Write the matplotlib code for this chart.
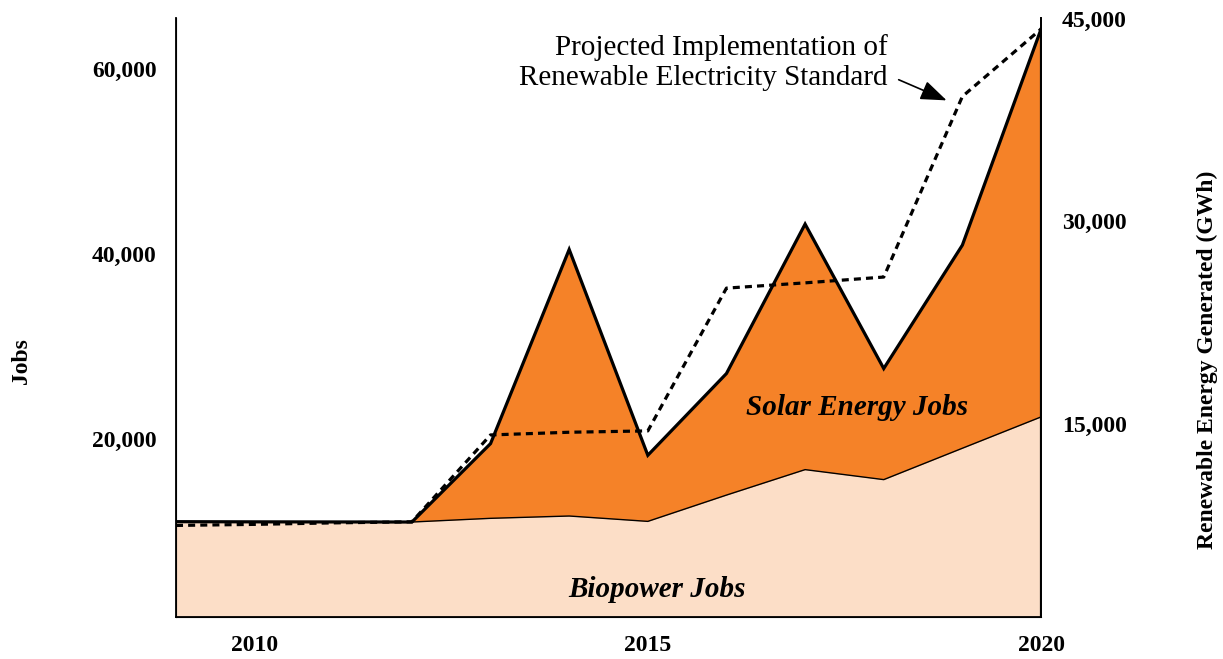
import numpy as np
import matplotlib
matplotlib.use('Agg')
from matplotlib import pyplot as plt
from matplotlib.ticker import FuncFormatter

years = [2009, 2010, 2011, 2012, 2013, 2014, 2015, 2016, 2017, 2018, 2019, 2020]
biopower_jobs = [11100, 11080, 11070, 11060, 11460, 11710, 11130, 13970, 16720, 15640, 19030, 22410]
solar_jobs = [0, 0, 0, 0, 8070, 28790, 7140, 13130, 26520, 12000, 21940, 41880]
res_gwh = [7480, 7560, 7670, 7750, 14180, 14380, 14480, 25050, 25440, 25870, 39240, 44230]

jobs_ticks = [20000, 40000, 60000]
gwh_ticks = [15000, 30000, 45000]
year_ticks = [2010, 2015, 2020]

orange = '#F58228'
peach = '#FCDEC7'
serif = ['Liberation Serif', 'DejaVu Serif']
plt.rcParams['font.family'] = serif

x = np.array(years)
bio = np.array(biopower_jobs)
total = bio + np.array(solar_jobs)

fig = plt.figure(figsize=(12.23, 6.59), dpi=100)
ax = fig.add_axes([0.1439, 0.0637, 0.7073, 0.909])

ax.fill_between(x, 0, bio, color=peach, lw=0)
ax.fill_between(x, bio, total, color=orange, lw=0)
ax.plot(x, bio, color='k', lw=1.0)
ax.plot(x, total, color='k', lw=2.3, solid_joinstyle='miter')
ax.plot([x[-1], x[-1]], [0, total[-1]], color='k', lw=2.3)

ax.set_xlim(2009, 2020)
ax.set_ylim(800, 65500)
ax.set_xticks(year_ticks)
ax.set_yticks(jobs_ticks)
ax.yaxis.set_major_formatter(FuncFormatter(lambda v, p: f'{int(v):,}'))
ax.tick_params(length=0)
ax.tick_params(axis='y', pad=14)
ax.tick_params(axis='x', pad=13)
for lab in ax.get_xticklabels() + ax.get_yticklabels():
    lab.set_fontweight('bold')
    lab.set_fontsize(17)
ax.spines['top'].set_visible(False)
for s in ['left', 'bottom', 'right']:
    ax.spines[s].set_linewidth(1.3)
ax.set_ylabel('Jobs', fontsize=17, fontweight='bold')
ax.yaxis.set_label_coords(-0.1665, 0.428)

ax2 = ax.twinx()
ax2.plot(x, res_gwh, color='k', lw=2.3, ls=(0, (2.2, 1.6)))
ax2.set_ylim(700, 45050)
ax2.set_yticks(gwh_ticks)
ax2.yaxis.set_major_formatter(FuncFormatter(lambda v, p: f'{int(v):,}'))
ax2.tick_params(length=0, pad=15)
for lab in ax2.get_yticklabels():
    lab.set_fontweight('bold')
    lab.set_fontsize(17)
ax2.spines['top'].set_visible(False)
ax2.spines['right'].set_linewidth(1.3)
ax2.set_ylabel('Renewable Energy Generated (GWh)', fontsize=17, fontweight='bold')
ax2.yaxis.set_label_coords(1.180, 0.43)

ax.text(2017.66, 23450, 'Solar Energy Jobs', fontsize=21, fontstyle='italic',
        fontweight='bold', ha='center', va='center')
ax.text(2015.12, 3750, 'Biopower Jobs', fontsize=21, fontstyle='italic',
        fontweight='bold', ha='center', va='center')

ax2.text(2018.05, 41750, 'Projected Implementation of\nRenewable Electricity Standard',
         fontsize=21, ha='right', va='center', linespacing=1.2)
ax2.annotate('', xy=(2018.8, 38950), xytext=(2018.19, 40480),
             arrowprops=dict(arrowstyle='-|>,head_length=0.8,head_width=0.3',
                             mutation_scale=20, color='k', lw=1.2,
                             shrinkA=0, shrinkB=0))

fig.savefig('out.png', dpi=100)
